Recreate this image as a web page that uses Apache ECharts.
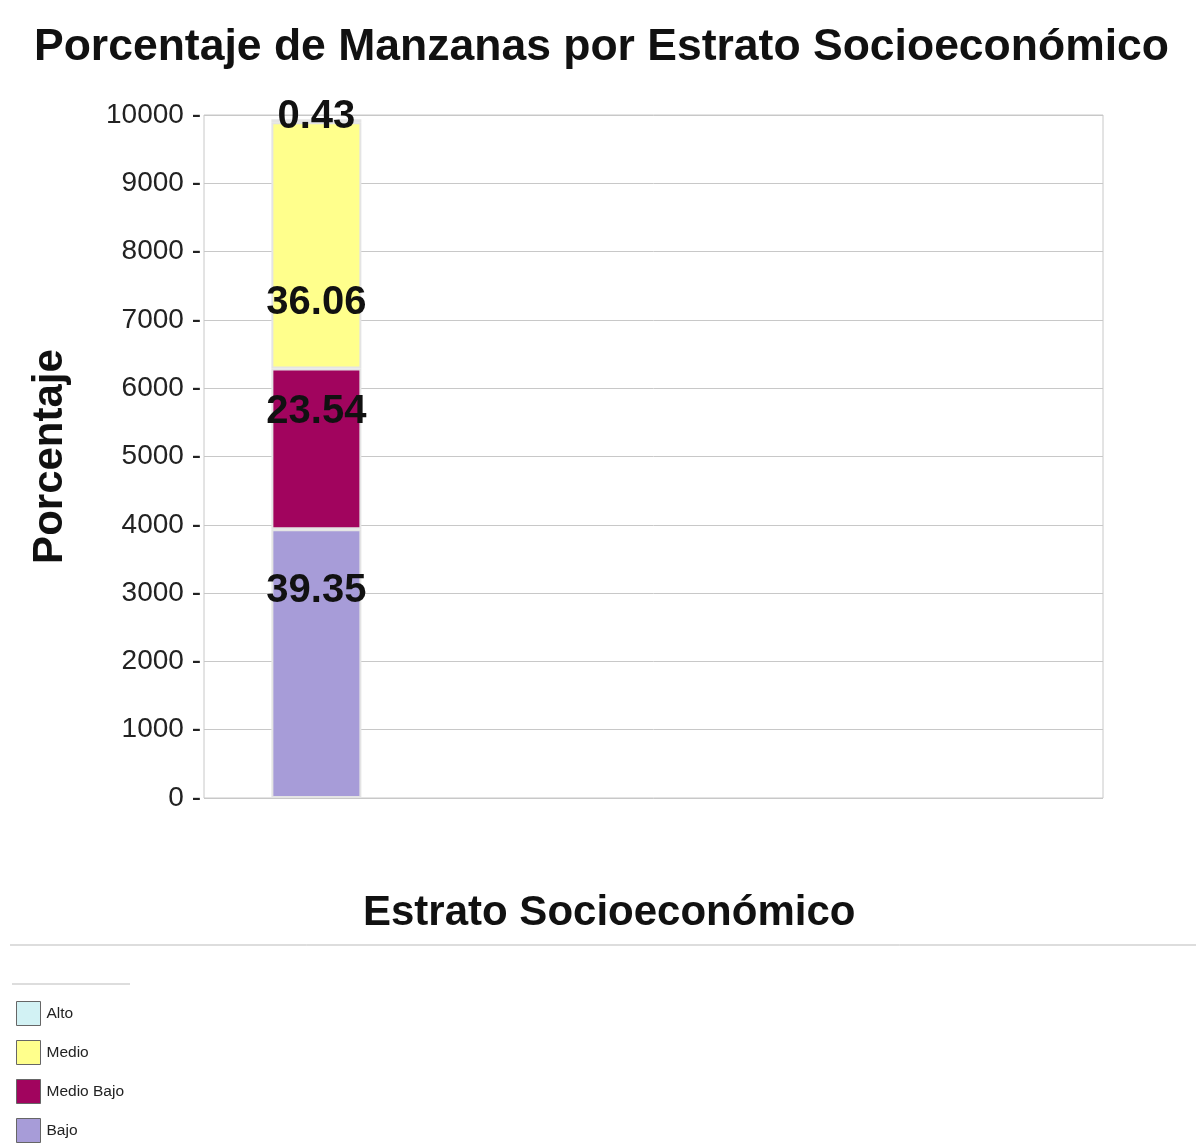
<!DOCTYPE html>
<html><head><meta charset="utf-8">
<script src="https://cdn.jsdelivr.net/npm/echarts@6/dist/echarts.min.js"></script>
<style>html,body{margin:0;padding:0;background:#fff}#c{width:1198px;height:1145px}</style>
</head><body><div id="c"></div>
<script>
const categories = ['', '', '', ''];
const seriesNames = ['Bajo', 'Medio Bajo', 'Medio', 'Alto'];
const bajo = [3935, null, null, null];
const medioBajo = [2354, null, null, null];
const medio = [3606, null, null, null];
const alto = [43, null, null, null];
const yTicks = [0, 1000, 2000, 3000, 4000, 5000, 6000, 7000, 8000, 9000, 10000];

const colors = { 'Bajo': '#a79cd8', 'Medio Bajo': '#a1045e', 'Medio': '#ffff8c', 'Alto': '#d2f2f4' };
const labelPos = { 'Bajo': ['50%', 62], 'Medio Bajo': ['50%', 44], 'Medio': ['50%', 181], 'Alto': ['50%', -2] };
const dataMap = { 'Bajo': bajo, 'Medio Bajo': medioBajo, 'Medio': medio, 'Alto': alto };

const chart = echarts.init(document.getElementById('c'), null, { renderer: 'canvas' });
const font = '"Liberation Sans", Arial, sans-serif';
chart.setOption({
  backgroundColor: '#ffffff',
  animation: false,
  title: [
    { text: 'Porcentaje de Manzanas por Estrato Socioeconómico', left: 29, top: 20,
      textStyle: { fontFamily: font, fontSize: 44.5, fontWeight: 'bold', color: '#111' } },
    { text: 'Estrato Socioeconómico', left: 358, top: 887,
      textStyle: { fontFamily: font, fontSize: 42, fontWeight: 'bold', color: '#111' } }
  ],
  grid: { left: 204, right: 95, top: 115, bottom: 347, show: true, borderColor: '#c8c8c8', borderWidth: 1 },
  legend: {
    orient: 'vertical', left: 16, top: 1001, padding: 0, itemWidth: 24, itemHeight: 24, itemGap: 14,
    icon: 'rect', data: ['Alto', 'Medio', 'Medio Bajo', 'Bajo'],
    textStyle: { fontFamily: font, fontSize: 15.5, color: '#222', padding: [0, 0, 0, 1] },
    itemStyle: { borderColor: '#666', borderWidth: 1 }
  },
  xAxis: {
    type: 'category', data: categories,
    axisLabel: { show: false }, axisTick: { show: false },
    axisLine: { show: false }
  },
  yAxis: {
    type: 'value', min: 0, max: 10000, interval: 1000,
    name: 'Porcentaje', nameLocation: 'middle', nameGap: 133, nameRotate: 90,
    nameTextStyle: { fontFamily: font, fontSize: 42, fontWeight: 'bold', color: '#111' },
    axisLine: { show: false }, axisTick: { show: false },
    axisLabel: { fontFamily: font, fontSize: 28, color: '#222', margin: 3,
      formatter: v => yTicks.includes(v) ? v + ' -' : '' },
    splitLine: { lineStyle: { color: '#c8c8c8', width: 1 } }
  },
  series: seriesNames.map(n => ({
    name: n, type: 'bar', stack: 'total', barWidth: 90,
    data: dataMap[n],
    itemStyle: { color: colors[n], borderColor: '#e4e4e4', borderWidth: 2 },
    label: {
      show: true, position: labelPos[n], align: 'center', verticalAlign: 'middle',
      fontFamily: font, fontSize: 40, fontWeight: 'bold', color: '#111',
      formatter: p => (p.value / 100).toFixed(2)
    }
  })),
  graphic: [
    { type: 'line', shape: { x1: 10, y1: 945, x2: 1196, y2: 945 }, style: { stroke: '#bbb', lineWidth: 1 } },
    { type: 'line', shape: { x1: 12, y1: 984, x2: 130, y2: 984 }, style: { stroke: '#bbb', lineWidth: 1 } }
  ]
});
</script></body></html>
